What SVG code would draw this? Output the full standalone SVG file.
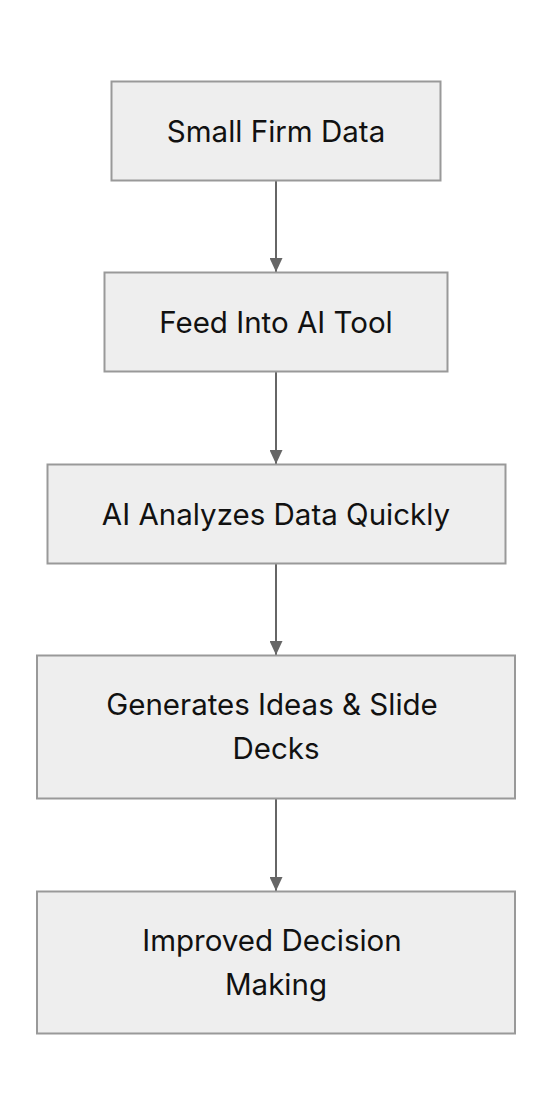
<svg xmlns="http://www.w3.org/2000/svg" width="552" height="1116" viewBox="0 0 552 1116">
<style>
.n rect{fill:#eeeeee;stroke:#999999;stroke-width:2}
.n text{font-family:Inter,"Noto Sans",sans-serif;font-size:29.5px;fill:#111111;text-anchor:middle}
.e line{stroke:#666666;stroke-width:2}
</style>
<defs>
<marker id="ah" viewBox="0 0 14 13" refX="14" refY="6.5" markerWidth="14" markerHeight="13" markerUnits="userSpaceOnUse" orient="auto">
<path d="M0,0 L14,6.5 L0,13 Z" fill="#666666"/>
</marker>
</defs>
<rect width="552" height="1116" fill="#ffffff"/>
<g id="connectors" class="e">
<line x1="276" y1="181" x2="276" y2="272" marker-end="url(#ah)"/>
<line x1="276" y1="372" x2="276" y2="464" marker-end="url(#ah)"/>
<line x1="276" y1="564" x2="276" y2="655" marker-end="url(#ah)"/>
<line x1="276" y1="799" x2="276" y2="891" marker-end="url(#ah)"/>
</g>
<g id="n1" class="n"><rect x="111.5" y="81.5" width="329" height="99"/><text x="276" y="141.5">Small Firm Data</text></g>
<g id="n2" class="n"><rect x="104.5" y="272.5" width="343" height="99"/><text x="276" y="333">Feed Into AI Tool</text></g>
<g id="n3" class="n"><rect x="47.5" y="464.5" width="458" height="99"/><text x="276" y="524.5">AI Analyzes Data Quickly</text></g>
<g id="n4" class="n"><rect x="37" y="655.5" width="478" height="143"/><text x="272" y="715">Generates Ideas &amp; Slide</text><text x="276" y="758.5">Decks</text></g>
<g id="n5" class="n"><rect x="37" y="891.5" width="478" height="142"/><text x="272" y="951">Improved Decision</text><text x="276" y="994.5">Making</text></g>
</svg>
